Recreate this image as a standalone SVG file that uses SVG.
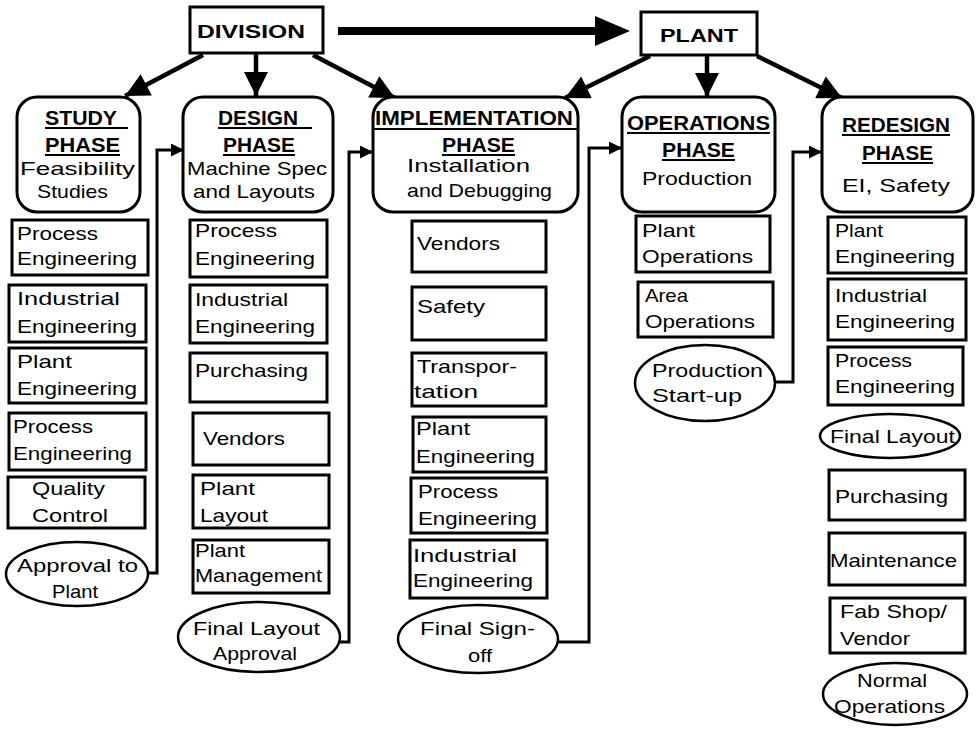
<svg xmlns="http://www.w3.org/2000/svg" width="976" height="734" viewBox="0 0 976 734">
<style>
.bx{fill:#fff;stroke:#000;stroke-width:3}
.ph{fill:#fff;stroke:#000;stroke-width:3}
.ov{fill:#fff;stroke:#000;stroke-width:2.5}
text{font-family:"Liberation Sans",Arial,sans-serif;fill:#000}
.t{font-size:18.5px}
.h{font-size:20.5px;font-weight:bold}
.ul{stroke:#000;stroke-width:2}
.cn{fill:none;stroke:#000;stroke-width:3}
.ar{fill:none;stroke:#000;stroke-width:4.5}
</style>
<defs>
<marker id="big" viewBox="0 0 10 10" markerUnits="userSpaceOnUse" markerWidth="26" markerHeight="24" refX="10" refY="5" orient="auto"><path d="M0,0 L10,5 L0,10z" fill="#000"/></marker>
<marker id="sm" viewBox="0 0 10 10" markerUnits="userSpaceOnUse" markerWidth="16" markerHeight="13" refX="10" refY="5" orient="auto"><path d="M0,0 L10,5 L0,10z" fill="#000"/></marker>
</defs>
<rect width="976" height="734" fill="#fff"/>

<g id="connectors">
<line x1="338" y1="31" x2="600" y2="31" stroke="#000" stroke-width="8"/>
<polygon points="595,16 630,31 595,46" fill="#000"/>
<path class="ar" d="M203,55 L125,96" marker-end="url(#big)"/>
<path class="ar" d="M256,53 L256,96" marker-end="url(#big)"/>
<path class="ar" d="M313,55 L395,98" marker-end="url(#big)"/>
<path class="ar" d="M650,56 L565,98" marker-end="url(#big)"/>
<path class="ar" d="M707,55 L707,97" marker-end="url(#big)"/>
<path class="ar" d="M757,56 L842,98" marker-end="url(#big)"/>
<path class="cn" d="M148,573 H157 V150 H184" marker-end="url(#sm)"/>
<path class="cn" d="M340,642 H349 V152 H373" marker-end="url(#sm)"/>
<path class="cn" d="M559,642 H589 V148 H622" marker-end="url(#sm)"/>
<path class="cn" d="M775,382 H793 V152 H822" marker-end="url(#sm)"/>
</g>

<g id="division"><rect class="bx" x="190" y="7" width="133" height="46"/><text class="h" x="197" y="38" style="font-size:18px" textLength="108" lengthAdjust="spacingAndGlyphs">DIVISION</text></g>
<g id="plant"><rect class="bx" x="641" y="12" width="116" height="43"/><text class="h" x="660" y="42" style="font-size:18px" textLength="78" lengthAdjust="spacingAndGlyphs">PLANT</text></g>

<g id="study-phase"><rect class="ph" x="17" y="97" width="123" height="115" rx="20"/>
<text class="h" x="45" y="125" textLength="72" lengthAdjust="spacingAndGlyphs">STUDY</text><line class="ul" x1="45" y1="128" x2="128" y2="128"/>
<text class="h" x="45" y="152" textLength="75" lengthAdjust="spacingAndGlyphs">PHASE</text><line class="ul" x1="45" y1="155" x2="120" y2="155"/>
<text class="t" x="20" y="175" textLength="115" lengthAdjust="spacingAndGlyphs">Feasibility</text>
<text class="t" x="37" y="198" textLength="71" lengthAdjust="spacingAndGlyphs">Studies</text></g>

<g id="design-phase"><rect class="ph" x="183" y="97" width="150" height="115" rx="20"/>
<text class="h" x="218" y="125" textLength="80" lengthAdjust="spacingAndGlyphs">DESIGN</text><line class="ul" x1="218" y1="128" x2="312" y2="128"/>
<text class="h" x="223" y="152" textLength="72" lengthAdjust="spacingAndGlyphs">PHASE</text><line class="ul" x1="223" y1="155" x2="295" y2="155"/>
<text class="t" x="187" y="175" textLength="140" lengthAdjust="spacingAndGlyphs">Machine Spec</text>
<text class="t" x="193" y="198" textLength="122" lengthAdjust="spacingAndGlyphs">and Layouts</text></g>

<g id="implementation-phase"><rect class="ph" x="373" y="97" width="205" height="115" rx="20"/>
<text class="h" x="375" y="125" textLength="198" lengthAdjust="spacingAndGlyphs">IMPLEMENTATION</text><line class="ul" x1="373" y1="129" x2="577" y2="129"/>
<text class="h" x="442" y="152" textLength="73" lengthAdjust="spacingAndGlyphs">PHASE</text><line class="ul" x1="442" y1="155" x2="515" y2="155"/>
<text class="t" x="407" y="172" textLength="123" lengthAdjust="spacingAndGlyphs">Installation</text>
<text class="t" x="407" y="197" textLength="145" lengthAdjust="spacingAndGlyphs">and Debugging</text></g>

<g id="operations-phase"><rect class="ph" x="622" y="97" width="153" height="115" rx="20"/>
<text class="h" x="627" y="130" textLength="143" lengthAdjust="spacingAndGlyphs">OPERATIONS</text><line class="ul" x1="627" y1="133" x2="770" y2="133"/>
<text class="h" x="662" y="157" textLength="73" lengthAdjust="spacingAndGlyphs">PHASE</text><line class="ul" x1="662" y1="160" x2="735" y2="160"/>
<text class="t" x="642" y="185" textLength="110" lengthAdjust="spacingAndGlyphs">Production</text></g>

<g id="redesign-phase"><rect class="ph" x="822" y="97" width="151" height="115" rx="20"/>
<text class="h" x="842" y="132" textLength="108" lengthAdjust="spacingAndGlyphs">REDESIGN</text><line class="ul" x1="842" y1="135" x2="950" y2="135"/>
<text class="h" x="862" y="160" textLength="71" lengthAdjust="spacingAndGlyphs">PHASE</text><line class="ul" x1="862" y1="163" x2="933" y2="163"/>
<text class="t" x="842" y="192" textLength="108" lengthAdjust="spacingAndGlyphs">EI,  Safety</text></g>

<!-- Study column -->
<g id="s1"><rect class="bx" x="12" y="220" width="136" height="55"/><text class="t" x="17" y="240" textLength="81" lengthAdjust="spacingAndGlyphs">Process</text><text class="t" x="17" y="265" textLength="120" lengthAdjust="spacingAndGlyphs">Engineering</text></g>
<g id="s2"><rect class="bx" x="9" y="285" width="137" height="57"/><text class="t" x="17" y="305" textLength="103" lengthAdjust="spacingAndGlyphs">Industrial</text><text class="t" x="17" y="333" textLength="120" lengthAdjust="spacingAndGlyphs">Engineering</text></g>
<g id="s3"><rect class="bx" x="9" y="348" width="137" height="55"/><text class="t" x="17" y="368" textLength="55" lengthAdjust="spacingAndGlyphs">Plant</text><text class="t" x="17" y="395" textLength="120" lengthAdjust="spacingAndGlyphs">Engineering</text></g>
<g id="s4"><rect class="bx" x="9" y="413" width="137" height="57"/><text class="t" x="13" y="433" textLength="80" lengthAdjust="spacingAndGlyphs">Process</text><text class="t" x="13" y="460" textLength="119" lengthAdjust="spacingAndGlyphs">Engineering</text></g>
<g id="s5"><rect class="bx" x="8" y="477" width="137" height="51"/><text class="t" x="32" y="495" textLength="73" lengthAdjust="spacingAndGlyphs">Quality</text><text class="t" x="32" y="522" textLength="76" lengthAdjust="spacingAndGlyphs">Control</text></g>
<g id="s6"><ellipse class="ov" cx="77" cy="574" rx="71" ry="32"/><text class="t" x="17" y="572" textLength="121" lengthAdjust="spacingAndGlyphs">Approval  to</text><text class="t" x="52" y="598" textLength="46" lengthAdjust="spacingAndGlyphs">Plant</text></g>

<!-- Design column -->
<g id="d1"><rect class="bx" x="190" y="220" width="137" height="57"/><text class="t" x="195" y="237" textLength="82" lengthAdjust="spacingAndGlyphs">Process</text><text class="t" x="195" y="265" textLength="120" lengthAdjust="spacingAndGlyphs">Engineering</text></g>
<g id="d2"><rect class="bx" x="190" y="285" width="137" height="58"/><text class="t" x="195" y="306" textLength="93" lengthAdjust="spacingAndGlyphs">Industrial</text><text class="t" x="195" y="333" textLength="120" lengthAdjust="spacingAndGlyphs">Engineering</text></g>
<g id="d3"><rect class="bx" x="190" y="353" width="137" height="49"/><text class="t" x="195" y="377" textLength="113" lengthAdjust="spacingAndGlyphs">Purchasing</text></g>
<g id="d4"><rect class="bx" x="193" y="413" width="136" height="52"/><text class="t" x="203" y="445" textLength="82" lengthAdjust="spacingAndGlyphs">Vendors</text></g>
<g id="d5"><rect class="bx" x="193" y="475" width="136" height="53"/><text class="t" x="200" y="495" textLength="55" lengthAdjust="spacingAndGlyphs">Plant</text><text class="t" x="200" y="522" textLength="68" lengthAdjust="spacingAndGlyphs">Layout</text></g>
<g id="d6"><rect class="bx" x="193" y="540" width="136" height="53"/><text class="t" x="195" y="557" textLength="50" lengthAdjust="spacingAndGlyphs">Plant</text><text class="t" x="195" y="582" textLength="127" lengthAdjust="spacingAndGlyphs">Management</text></g>
<g id="d7"><ellipse class="ov" cx="259" cy="637" rx="81" ry="35"/><text class="t" x="193" y="635" textLength="127" lengthAdjust="spacingAndGlyphs">Final  Layout</text><text class="t" x="213" y="660" textLength="84" lengthAdjust="spacingAndGlyphs">Approval</text></g>

<!-- Implementation column -->
<g id="i1"><rect class="bx" x="412" y="221" width="134" height="51"/><text class="t" x="417" y="250" textLength="83" lengthAdjust="spacingAndGlyphs">Vendors</text></g>
<g id="i2"><rect class="bx" x="412" y="287" width="134" height="53"/><text class="t" x="417" y="313" textLength="68" lengthAdjust="spacingAndGlyphs">Safety</text></g>
<g id="i3"><rect class="bx" x="412" y="353" width="134" height="53"/><text class="t" x="417" y="373" textLength="100" lengthAdjust="spacingAndGlyphs">Transpor-</text><text class="t" x="414" y="398" textLength="64" lengthAdjust="spacingAndGlyphs">tation</text></g>
<g id="i4"><rect class="bx" x="413" y="417" width="133" height="55"/><text class="t" x="416" y="435" textLength="54" lengthAdjust="spacingAndGlyphs">Plant</text><text class="t" x="416" y="463" textLength="119" lengthAdjust="spacingAndGlyphs">Engineering</text></g>
<g id="i5"><rect class="bx" x="411" y="478" width="136" height="55"/><text class="t" x="418" y="498" textLength="80" lengthAdjust="spacingAndGlyphs">Process</text><text class="t" x="418" y="525" textLength="119" lengthAdjust="spacingAndGlyphs">Engineering</text></g>
<g id="i6"><rect class="bx" x="410" y="540" width="137" height="58"/><text class="t" x="413" y="562" textLength="104" lengthAdjust="spacingAndGlyphs">Industrial</text><text class="t" x="413" y="587" textLength="120" lengthAdjust="spacingAndGlyphs">Engineering</text></g>
<g id="i7"><ellipse class="ov" cx="478" cy="639" rx="80" ry="34"/><text class="t" x="420" y="635" textLength="115" lengthAdjust="spacingAndGlyphs">Final  Sign-</text><text class="t" x="468" y="662" textLength="24" lengthAdjust="spacingAndGlyphs">off</text></g>

<!-- Operations column -->
<g id="o1"><rect class="bx" x="636" y="216" width="134" height="56"/><text class="t" x="642" y="237" textLength="53" lengthAdjust="spacingAndGlyphs">Plant</text><text class="t" x="642" y="263" textLength="111" lengthAdjust="spacingAndGlyphs">Operations</text></g>
<g id="o2"><rect class="bx" x="638" y="282" width="135" height="55"/><text class="t" x="645" y="302" textLength="43" lengthAdjust="spacingAndGlyphs">Area</text><text class="t" x="645" y="328" textLength="110" lengthAdjust="spacingAndGlyphs">Operations</text></g>
<g id="o3"><ellipse class="ov" cx="705" cy="383" rx="70" ry="38"/><text class="t" x="652" y="377" textLength="111" lengthAdjust="spacingAndGlyphs">Production</text><text class="t" x="652" y="402" textLength="90" lengthAdjust="spacingAndGlyphs">Start-up</text></g>

<!-- Redesign column -->
<g id="r1"><rect class="bx" x="828" y="217" width="138" height="56"/><text class="t" x="835" y="237" textLength="48" lengthAdjust="spacingAndGlyphs">Plant</text><text class="t" x="835" y="263" textLength="120" lengthAdjust="spacingAndGlyphs">Engineering</text></g>
<g id="r2"><rect class="bx" x="828" y="279" width="138" height="61"/><text class="t" x="835" y="302" textLength="92" lengthAdjust="spacingAndGlyphs">Industrial</text><text class="t" x="835" y="328" textLength="120" lengthAdjust="spacingAndGlyphs">Engineering</text></g>
<g id="r3"><rect class="bx" x="828" y="347" width="135" height="58"/><text class="t" x="835" y="367" textLength="77" lengthAdjust="spacingAndGlyphs">Process</text><text class="t" x="835" y="393" textLength="120" lengthAdjust="spacingAndGlyphs">Engineering</text></g>
<g id="r4"><ellipse class="ov" cx="890" cy="436" rx="70" ry="22"/><text class="t" x="830" y="443" textLength="125" lengthAdjust="spacingAndGlyphs">Final  Layout</text></g>
<g id="r5"><rect class="bx" x="829" y="470" width="136" height="50"/><text class="t" x="835" y="503" textLength="113" lengthAdjust="spacingAndGlyphs">Purchasing</text></g>
<g id="r6"><rect class="bx" x="829" y="533" width="136" height="52"/><text class="t" x="830" y="567" textLength="127" lengthAdjust="spacingAndGlyphs">Maintenance</text></g>
<g id="r7"><rect class="bx" x="830" y="598" width="135" height="55"/><text class="t" x="840" y="618" textLength="107" lengthAdjust="spacingAndGlyphs">Fab Shop/</text><text class="t" x="840" y="645" textLength="70" lengthAdjust="spacingAndGlyphs">Vendor</text></g>
<g id="r8"><ellipse class="ov" cx="895" cy="694" rx="72" ry="31"/><text class="t" x="857" y="687" textLength="70" lengthAdjust="spacingAndGlyphs">Normal</text><text class="t" x="834" y="713" textLength="111" lengthAdjust="spacingAndGlyphs">Operations</text></g>
</svg>
